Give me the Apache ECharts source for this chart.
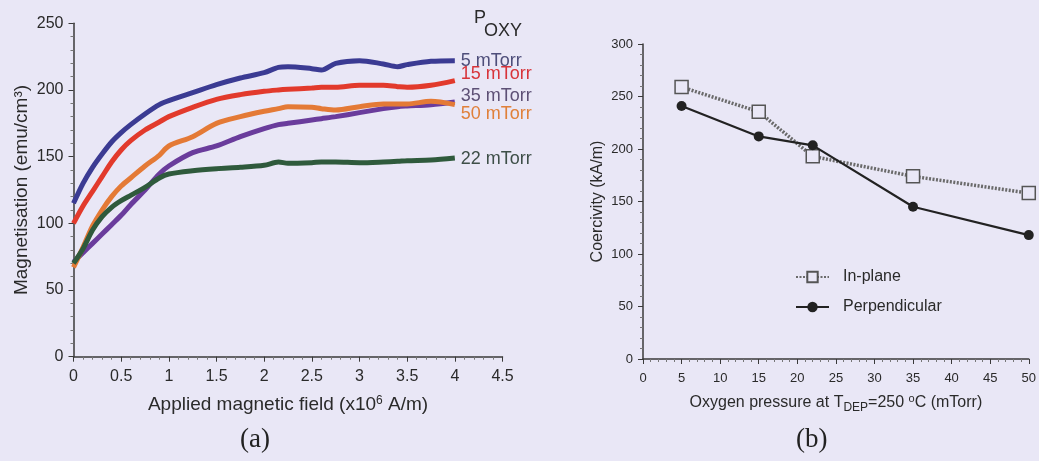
<!DOCTYPE html>
<html><head><meta charset="utf-8">
<script src="https://cdn.jsdelivr.net/npm/echarts@6/dist/echarts.min.js"></script>
<style>html,body{margin:0;padding:0;background:#e9e7f6;}#c{width:1039px;height:461px;}</style>
</head><body><div id="c"></div>
<script>
// ---- Panel (a): magnetisation vs applied field ----
const field = [0, 0.1, 0.2, 0.3, 0.4, 0.5, 0.6, 0.75, 0.9, 1.0, 1.25, 1.5, 1.75, 2.0, 2.15, 2.25, 2.5, 2.6, 2.75, 3.0, 3.25, 3.4, 3.5, 3.75, 4.0];
const m5  = [115, 130, 142, 152, 161, 168, 174, 182, 189, 192, 198, 204, 209, 213, 217, 217.5, 216, 215, 220, 222, 219.5, 217.5, 219, 221.5, 222];
const m15 = [100, 113, 124, 135, 146, 155, 162, 170, 176, 180, 187, 193, 196.5, 199, 200, 200.5, 201.5, 202, 202, 203.5, 203.5, 202.5, 202, 203.5, 207];
const m50 = [67, 82, 98, 110, 120, 128, 134, 143, 151, 158, 165, 175, 180, 184, 186, 187.5, 187, 186, 185, 187.5, 189.5, 189.5, 189.5, 191.5, 189];
const m35 = [71, 78, 85, 92, 99, 106, 114, 125, 137, 143, 153, 158, 165, 171, 174, 175, 177.5, 178.5, 180, 183, 186, 187.5, 188, 189, 191];
const m22 = [70, 81, 95, 105, 112, 117, 121, 127, 134, 137, 139.5, 141, 142, 143.5, 146, 145, 145.5, 146, 146, 145.5, 146, 146.5, 147, 147.5, 149];
const seriesNamesA = ['5 mTorr', '15 mTorr', '35 mTorr', '50 mTorr', '22 mTorr'];

// ---- Panel (b): coercivity vs oxygen pressure ----
const pressure = [5, 15, 22, 35, 50];
const inPlane = [259, 235.5, 193, 174, 158];
const perpendicular = [241, 212, 203.5, 145, 118];

function pairs(xs, ys){ return xs.map((x,i)=>[x, ys[i]]); }

const FONT = 'Liberation Sans, Arial, sans-serif';
const SERIF = 'Liberation Serif, DejaVu Serif, serif';
const axisCol = '#3a3a3a';
const txt = '#2a2a2a';

const chart = echarts.init(document.getElementById('c'), null, {renderer:'canvas'});

function mkSeriesA(name, data, color, labelColor, dy){
  return {
    name, type:'line', xAxisIndex:0, yAxisIndex:0,
    data: pairs(field, data), showSymbol:false, smooth:0.3,
    lineStyle:{color, width:5}, itemStyle:{color},
    endLabel:{show:true, formatter: name, color: labelColor, fontSize:18, fontFamily:FONT, distance:6, offset:[0, dy]},
    z: 3
  };
}

const option = {
  backgroundColor:'#e9e7f6',
  animation:false,
  textStyle:{fontFamily:FONT},
  grid:[
    {left:73.5, top:23.3, width:429, height:333.4},
    {left:643, top:44, width:389, height:315}
  ],
  xAxis:[
    {gridIndex:0, type:'value', min:0, max:4.5, interval:0.5,
     axisLine:{lineStyle:{color:axisCol, width:1.5}},
     axisTick:{show:true, length:5, lineStyle:{color:axisCol}},
     minorTick:{show:true, splitNumber:5, length:3, lineStyle:{color:'#777'}},
     splitLine:{show:false},
     axisLabel:{color:txt, fontSize:16, margin:12, fontFamily:FONT},
     name:'Applied magnetic field (x10{sup|6} A/m)', nameLocation:'middle', nameGap:38,
     nameTextStyle:{color:txt, fontSize:19, fontFamily:FONT,
       rich:{sup:{fontSize:12, verticalAlign:'top', padding:[0,0,9,0], color:txt, fontFamily:FONT}}}
    },
    {gridIndex:1, type:'value', min:0, max:50, interval:5,
     axisLine:{lineStyle:{color:axisCol, width:1.5}},
     axisTick:{show:true, length:5, lineStyle:{color:axisCol}},
     minorTick:{show:true, splitNumber:5, length:3, lineStyle:{color:'#777'}},
     splitLine:{show:false},
     axisLabel:{color:txt, fontSize:13, margin:13, fontFamily:FONT},
     name:'Oxygen pressure at T{sub|DEP}=250 {sup|o}C (mTorr)', nameLocation:'middle', nameGap:33,
     nameTextStyle:{color:txt, fontSize:16, fontFamily:FONT,
       rich:{sub:{fontSize:12, padding:[10,0,0,0], color:txt, fontFamily:FONT},
             sup:{fontSize:11, padding:[0,0,9,0], color:txt, fontFamily:FONT}}}
    }
  ],
  yAxis:[
    {gridIndex:0, type:'value', min:0, max:250, interval:50,
     axisLine:{show:true, lineStyle:{color:axisCol, width:1.5}},
     axisTick:{show:true, length:5, lineStyle:{color:axisCol}},
     minorTick:{show:true, splitNumber:5, length:3, lineStyle:{color:'#777'}},
     splitLine:{show:false},
     axisLabel:{color:txt, fontSize:16, margin:10, fontFamily:FONT},
     name:'Magnetisation (emu/cm³)', nameLocation:'middle', nameGap:42, nameRotate:90,
     nameTextStyle:{color:txt, fontSize:19, fontFamily:FONT}
    },
    {gridIndex:1, type:'value', min:0, max:300, interval:50,
     axisLine:{show:true, lineStyle:{color:axisCol, width:1.5}},
     axisTick:{show:true, length:5, lineStyle:{color:axisCol}},
     minorTick:{show:true, splitNumber:5, length:3, lineStyle:{color:'#777'}},
     splitLine:{show:false},
     axisLabel:{color:txt, fontSize:13, margin:10, fontFamily:FONT},
     name:'Coercivity (kA/m)', nameLocation:'middle', nameGap:37, nameRotate:90,
     nameTextStyle:{color:txt, fontSize:16, fontFamily:FONT}
    }
  ],
  legend:{
    data:['In-plane','Perpendicular'], orient:'vertical', left:790, top:264,
    itemGap:14, itemWidth:33, itemHeight:13,
    textStyle:{color:txt, fontSize:16, fontFamily:FONT, padding:[0,0,0,9]}
  },
  graphic:[
    {type:'text', left:474, top:9, style:{text:'P', fontSize:18, fontFamily:FONT, fill:txt}},
    {type:'text', left:484, top:22, style:{text:'OXY', fontSize:18, fontFamily:FONT, fill:txt}},
    {type:'text', left:240, top:426, style:{text:'(a)', fontSize:27, fontFamily:SERIF, fill:'#222'}},
    {type:'text', left:796, top:426, style:{text:'(b)', fontSize:27, fontFamily:SERIF, fill:'#222'}}
  ],
  series:[
    mkSeriesA(seriesNamesA[0], m5, '#3b3b93', '#4e4e7a', 0),
    mkSeriesA(seriesNamesA[1], m15, '#e23a2c', '#d8343a', -7),
    mkSeriesA(seriesNamesA[2], m35, '#6a3c9c', '#5d5075', -6),
    mkSeriesA(seriesNamesA[3], m50, '#e47a36', '#e0803a', 9),
    mkSeriesA(seriesNamesA[4], m22, '#2f5a3c', '#3e4f48', 1),
    {name:'In-plane', type:'line', xAxisIndex:1, yAxisIndex:1,
     data:pairs(pressure, inPlane), symbol:'rect', symbolSize:13,
     lineStyle:{color:'#6a6a6a', width:3.5, type:[2,1.5]},
     itemStyle:{color:'#e9e7f6', borderColor:'#555', borderWidth:1.5}, z:4},
    {name:'Perpendicular', type:'line', xAxisIndex:1, yAxisIndex:1,
     data:pairs(pressure, perpendicular), symbol:'circle', symbolSize:10,
     lineStyle:{color:'#222', width:2.2}, itemStyle:{color:'#222'}, z:5}
  ]
};
chart.setOption(option);
</script>
</body></html>
